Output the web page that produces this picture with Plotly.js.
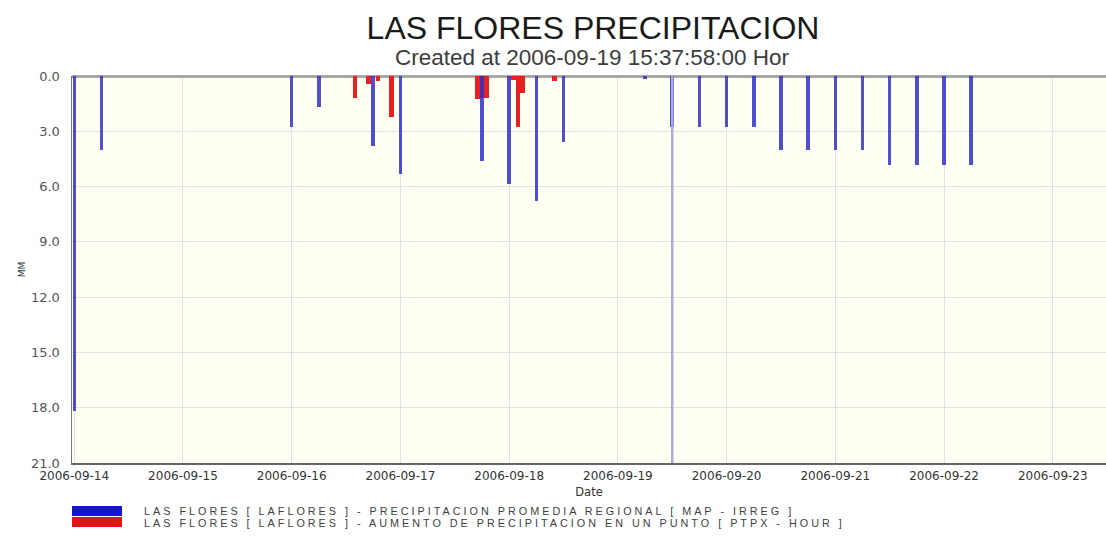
<!DOCTYPE html>
<html>
<head>
<meta charset="utf-8">
<script src="https://cdn.plot.ly/plotly-3.0.1.min.js"></script>
<style>html,body{margin:0;padding:0;background:#fff;}#chart{width:1106px;height:538px;}</style>
</head>
<body>
<div id="chart"></div>
<script>
// ---- Data ----
const mapTimes = [
  '2006-09-14 00:00','2006-09-14 06:00','2006-09-16 00:00','2006-09-16 06:00',
  '2006-09-16 18:00','2006-09-17 00:00','2006-09-17 18:00','2006-09-18 00:00',
  '2006-09-18 06:00','2006-09-18 12:00','2006-09-19 06:00','2006-09-19 12:00',
  '2006-09-19 18:00','2006-09-20 00:00','2006-09-20 06:00','2006-09-20 12:00',
  '2006-09-20 18:00','2006-09-21 00:00','2006-09-21 06:00','2006-09-21 12:00',
  '2006-09-21 18:00','2006-09-22 00:00','2006-09-22 06:00'
];
const mapValues = [18.2, 4.0, 2.75, 1.7, 3.8, 5.3, 4.6, 5.85, 6.8, 3.6, 0.15, 2.75,
                   2.75, 2.75, 2.75, 4.0, 4.0, 4.0, 4.0, 4.85, 4.85, 4.85, 4.85];

const ptpxTimes = [
  '2006-09-16 14:00','2006-09-16 17:00','2006-09-16 19:00','2006-09-16 22:00',
  '2006-09-17 17:00','2006-09-17 18:00','2006-09-17 19:00',
  '2006-09-18 01:00','2006-09-18 02:00','2006-09-18 03:00','2006-09-18 10:00'
];
const ptpxValues = [1.2, 0.45, 0.25, 2.25, 1.25, 1.2, 1.2, 0.2, 2.75, 0.9, 0.25];

const seriesNames = [
  'LAS FLORES [ LAFLORES ] - PRECIPITACION PROMEDIA REGIONAL [ MAP - IRREG ]',
  'LAS FLORES [ LAFLORES ] - AUMENTO DE PRECIPITACION EN UN PUNTO [ PTPX - HOUR ]'
];
const xTickLabels = ['2006-09-14','2006-09-15','2006-09-16','2006-09-17','2006-09-18',
                     '2006-09-19','2006-09-20','2006-09-21','2006-09-22','2006-09-23'];
const yTickVals = [0, 3, 6, 9, 12, 15, 18, 21];
const xRange = ['2006-09-13 23:30', '2006-09-23 11:45'];
const yRange = [21, 0];
const forecastStart = '2006-09-19 12:00';

const titleText = 'LAS FLORES PRECIPITACION';
const subtitleText = 'Created at 2006-09-19 15:37:58:00 Hor';

// ---- Layout geometry ----
const W = 1106, H = 538, ML = 72, MR = 0, MT = 76, MB = 75;
const PW = W - ML - MR, PH = H - MT - MB;
const px2x = p => (p - ML) / PW;
const py2y = p => (H - MB - p) / PH;

const blue = '#3030c8';
const red = '#e82020';
const wideFont = 'DejaVu Sans, Verdana, sans-serif';
const sansFont = 'Liberation Sans, Arial, sans-serif';

const traces = [
  {
    type: 'scatter', mode: 'lines',
    x: [forecastStart, forecastStart], y: [yRange[1], yRange[0]],
    line: {color: '#acacdc', width: 2.5},
    showlegend: false, hoverinfo: 'skip'
  },
  {
    type: 'bar', name: seriesNames[1], x: ptpxTimes, y: ptpxValues,
    width: 3600000, marker: {color: red, line: {width: 0}},
    showlegend: false
  },
  {
    type: 'bar', name: seriesNames[0], x: mapTimes, y: mapValues,
    width: 2800000, marker: {color: blue, opacity: 0.85, line: {width: 0}},
    showlegend: false
  }
];

const legendColors = ['#1414cc', '#e01414'];
const legendTextY = [510.5, 523];
const shapes = [];
const annotations = [];
seriesNames.forEach((name, i) => {
  const top = 506 + i * 11;
  shapes.push({
    type: 'rect', xref: 'paper', yref: 'paper',
    x0: px2x(72), x1: px2x(122), y0: py2y(top), y1: py2y(top + 10),
    fillcolor: legendColors[i], line: {width: 0}
  });
  annotations.push({
    xref: 'paper', yref: 'paper', x: px2x(142), y: py2y(legendTextY[i]),
    xanchor: 'left', yanchor: 'middle', showarrow: false,
    text: '<span style="letter-spacing:3px">' + name + '</span>',
    font: {family: sansFont, size: 10.8, color: '#404040'}
  });
});
annotations.push({
  xref: 'paper', yref: 'paper', x: px2x(592), y: py2y(57),
  xanchor: 'center', yanchor: 'middle', showarrow: false,
  text: subtitleText, font: {family: sansFont, size: 22.5, color: '#3c3c3c'}
});

const layout = {
  width: W, height: H,
  margin: {l: ML, r: MR, t: MT, b: MB, pad: 0},
  paper_bgcolor: '#ffffff',
  plot_bgcolor: '#fffff3',
  showlegend: false,
  bargap: 0, barmode: 'overlay',
  font: {family: sansFont, color: '#333'},
  title: {
    text: titleText, x: 593 / W, xanchor: 'center',
    y: 1 - 28 / H, yanchor: 'middle', yref: 'container',
    font: {size: 32, color: '#1a1a1a'}
  },
  xaxis: {
    type: 'date', range: xRange,
    tickvals: xTickLabels, ticktext: xTickLabels,
    ticks: '', ticklabelstandoff: 1,
    tickfont: {family: wideFont, size: 12, color: '#333'},
    showgrid: true, gridcolor: '#e2e2e2', gridwidth: 1,
    showline: true, linecolor: '#666', linewidth: 1.5,
    title: {text: 'Date', font: {family: wideFont, size: 11.5, color: '#333'}, standoff: 6}
  },
  yaxis: {
    range: yRange, tickvals: yTickVals, tickformat: '.1f',
    ticks: '', ticklabelstandoff: 8,
    tickfont: {family: wideFont, size: 13, color: '#555'},
    showgrid: true, gridcolor: '#e2e2e2', gridwidth: 1,
    zeroline: true, zerolinecolor: '#a8a8a8', zerolinewidth: 3,
    showline: true, linecolor: '#777', linewidth: 1.5,
    title: {text: 'MM', font: {family: wideFont, size: 9, color: '#333'}, standoff: 4}
  },
  shapes: shapes,
  annotations: annotations
};

Plotly.newPlot('chart', traces, layout, {displayModeBar: false, staticPlot: true});
</script>
</body>
</html>
